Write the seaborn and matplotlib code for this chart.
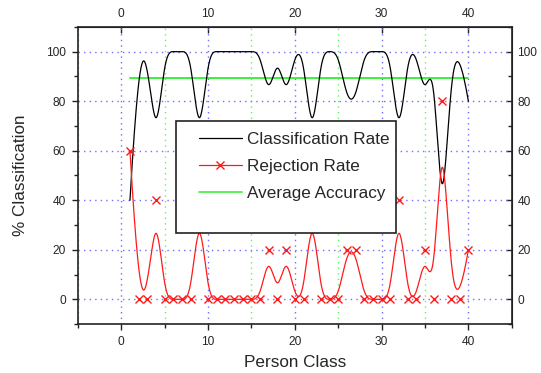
import numpy as np
import matplotlib
matplotlib.use("Agg")
import matplotlib.pyplot as plt
from matplotlib.lines import Line2D
from matplotlib.patches import Rectangle
import seaborn as sns

# data
persons = np.arange(1, 41)
rejection = [60, 0, 0, 40, 0, 0, 0, 0, 40, 0,
             0, 0, 0, 0, 0, 0, 20, 0, 20, 0,
             0, 40, 0, 0, 0, 20, 20, 0, 0, 0,
             0, 40, 0, 0, 20, 0, 80, 0, 0, 20]
classification = [100 - r for r in rejection]
avg_accuracy = np.mean(classification)

x_major = [0, 10, 20, 30, 40]
x_minor = [-5, 5, 15, 25, 35, 45]
y_major = [0, 20, 40, 60, 80, 100]
y_minor = [-10, 10, 30, 50, 70, 90, 110]


def bspline(cx, cy, k=3, num=1200):
    # clamped cubic B-spline through control points (Origin style "B-Spline" line)
    cx = np.asarray(cx, float)
    cy = np.asarray(cy, float)
    n = len(cx)
    knots = np.concatenate([np.zeros(k), np.arange(n - k + 1), np.full(k, n - k)])
    t = np.linspace(0, n - k, num)
    B = np.zeros((num, len(knots) - 1))
    for i in range(len(knots) - 1):
        B[:, i] = (knots[i] <= t) & (t < knots[i + 1])
    B[t == n - k, n - 1] = 1
    for d in range(1, k + 1):
        Bn = np.zeros((num, len(knots) - 1 - d))
        for i in range(len(knots) - 1 - d):
            den1 = knots[i + d] - knots[i]
            den2 = knots[i + d + 1] - knots[i + 1]
            left = (t - knots[i]) / den1 * B[:, i] if den1 > 0 else 0
            right = (knots[i + d + 1] - t) / den2 * B[:, i + 1] if den2 > 0 else 0
            Bn[:, i] = left + right
        B = Bn
    return B @ cx, B @ cy


sns.set_style("ticks")
plt.rcParams["font.family"] = ["Liberation Sans", "DejaVu Sans"]

fig, ax = plt.subplots(figsize=(5.41, 3.73), dpi=100)
fig.subplots_adjust(left=0.144, right=0.946, bottom=0.131, top=0.928)

blue = "#6f6fff"
green = "#5cf75c"
red = "#ff1a1a"
dark = "#222222"

cxs, cys = bspline(persons, classification)
rxs, rys = bspline(persons, rejection)

sns.lineplot(x=cxs, y=cys, sort=False, color="black", lw=0.9, ax=ax, zorder=3)
sns.lineplot(x=rxs, y=rys, sort=False, color=red, lw=0.9, ax=ax, zorder=3)
ax.plot(persons, rejection, ls="none", marker="x", ms=5.5, mew=1.0,
        color=red, zorder=3)
sns.lineplot(x=persons, y=np.full(len(persons), avg_accuracy), color="#3cf03c",
             lw=1.4, ax=ax, zorder=2)

ax.set_xlim(-5, 45)
ax.set_ylim(-10, 110)
ax.set_xticks(x_major)
ax.set_xticks(x_minor, minor=True)
ax.set_yticks(y_major)
ax.set_yticks(y_minor, minor=True)

ax.set_axisbelow(True)
ax.grid(which="major", color=blue, ls=(0, (1, 3)), lw=1.0)
ax.xaxis.grid(which="minor", color=green, ls=(0, (1, 3)), lw=1.0)

for s in ax.spines.values():
    s.set_visible(True)
    s.set_linewidth(1.2)
    s.set_color(dark)

ax.tick_params(which="major", direction="out", length=4.5, width=1.0,
               labelsize=8.6, pad=4, color=dark)
ax.tick_params(which="minor", direction="out", length=3, width=1.0, color=dark)

top = ax.secondary_xaxis("top")
top.set_xticks(x_major)
top.tick_params(which="major", direction="in", length=4.5, width=1.0,
                labelsize=8.6, pad=5, color=dark)
right = ax.secondary_yaxis("right")
right.set_yticks(y_major)
right.set_yticks(y_minor, minor=True)
right.tick_params(which="major", direction="in", length=4.5, width=1.0,
                  labelsize=8.6, pad=4, color=dark)
right.tick_params(which="minor", direction="in", length=3, width=1.0, color=dark)

ax.set_xlabel("Person Class", fontsize=12.3, labelpad=5)
ax.set_ylabel("% Classification", fontsize=12.3, labelpad=13)

# legend box (Origin style, extra room at the bottom)
ax.add_patch(Rectangle((0.225, 0.306), 0.509, 0.377, transform=ax.transAxes,
                       facecolor="white", edgecolor=dark, lw=1.2, zorder=4))
handles = [
    Line2D([], [], color="black", lw=0.9),
    Line2D([], [], color=red, lw=0.9, marker="x", ms=6, mew=1.0),
    Line2D([], [], color="#3cf03c", lw=1.2),
]
labels = ["Classification Rate", "Rejection Rate", "Average Accuracy"]
leg = ax.legend(handles, labels, loc="upper left", bbox_to_anchor=(0.279, 0.645),
                frameon=False, fontsize=12.3, handlelength=2.5, handletextpad=0.3,
                labelspacing=0.7, borderpad=0, borderaxespad=0)
leg.set_zorder(5)

fig.savefig("out.png", dpi=100)
